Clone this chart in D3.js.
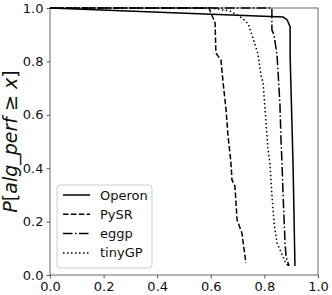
<!DOCTYPE html>
<html>
<head>
<meta charset="utf-8">
<script src="https://cdn.jsdelivr.net/npm/d3@7"></script>
<style>
  body { margin: 0; background: #fff; }
  svg { display: block; font-family: "DejaVu Sans", sans-serif; }
</style>
</head>
<body>
<svg id="chart"></svg>
<script>
// survival curves: [x, P]
const operon = [[0, 1.0], [0.433, 0.983], [0.87, 0.966], [0.885, 0.955], [0.896, 0.93],
  [0.896, 0.82], [0.907, 0.412], [0.914, 0.034]]
const pysr = [[0, 1.0], [0.593, 1.0], [0.616, 0.944], [0.619, 0.831], [0.638, 0.805],
  [0.646, 0.719], [0.657, 0.618], [0.664, 0.524], [0.675, 0.423], [0.679, 0.356],
  [0.69, 0.333], [0.698, 0.206], [0.716, 0.157], [0.731, 0.045]]
const eggp = [[0, 1.0], [0.828, 1.0], [0.828, 0.918], [0.836, 0.899], [0.847, 0.824],
  [0.851, 0.76], [0.858, 0.637], [0.862, 0.506], [0.866, 0.412], [0.869, 0.318],
  [0.877, 0.12], [0.881, 0.067], [0.892, 0.034]]
const tinygp = [[0, 1.0], [0.6, 1.0], [0.672, 0.989], [0.72, 0.96], [0.74, 0.94],
  [0.757, 0.888], [0.776, 0.828], [0.787, 0.75], [0.795, 0.72], [0.806, 0.573],
  [0.813, 0.476], [0.821, 0.412], [0.828, 0.3], [0.836, 0.195], [0.847, 0.12],
  [0.862, 0.086], [0.877, 0.05], [0.888, 0.034]]

const seriesNames = ["Operon", "PySR", "eggp", "tinyGP"]
const seriesData = [operon, pysr, eggp, tinygp]
const dashes = ["none", "5.5,2.4", "9.6,2.4,1.5,2.4", "1.5,2.5"]
const ticks = [0, 0.2, 0.4, 0.6, 0.8, 1.0]

const width = 332
const height = 295
const margin = { top: 8, right: 14, bottom: 20, left: 50 }

const svg = d3.select("#chart")
    .attr("width", width)
    .attr("height", height)

const x = d3.scaleLinear().domain([0, 1]).range([margin.left, width - margin.right])
const y = d3.scaleLinear().domain([0, 1]).range([height - margin.bottom, margin.top])

const xAxis = d3.axisBottom(x).tickValues(ticks).tickFormat(d3.format(".1f"))
    .tickSize(3.5).tickPadding(3)
const yAxis = d3.axisLeft(y).tickValues(ticks).tickFormat(d3.format(".1f"))
    .tickSize(3.5).tickPadding(3)

svg.append("g")
    .attr("transform", `translate(0,${height - margin.bottom})`)
    .call(xAxis)
svg.append("g")
    .attr("transform", `translate(${margin.left},0)`)
    .call(yAxis)

svg.selectAll(".tick text")
    .style("font-size", "13px")
    .style("font-family", "DejaVu Sans")
    .attr("fill", "#111")
svg.selectAll(".tick line").attr("stroke", "#333").attr("stroke-width", 0.8)
svg.selectAll(".domain").remove()

// frame
svg.append("rect")
    .attr("x", x(0)).attr("y", y(1))
    .attr("width", x(1) - x(0)).attr("height", y(0) - y(1))
    .attr("fill", "none")
    .attr("stroke", "#444")
    .attr("stroke-width", 0.8)

const line = d3.line().x(d => x(d[0])).y(d => y(d[1]))

svg.append("clipPath").attr("id", "plot-clip")
    .append("rect")
    .attr("x", x(0)).attr("y", y(1) - 1)
    .attr("width", x(1) - x(0)).attr("height", y(0) - y(1) + 2)

svg.append("g")
    .attr("clip-path", "url(#plot-clip)")
    .selectAll("path")
    .data(seriesData)
    .enter()
    .append("path")
    .attr("d", d => line(d))
    .attr("fill", "none")
    .attr("stroke", "#000")
    .attr("stroke-width", 1.5)
    .attr("stroke-dasharray", (d, i) => dashes[i])

// legend
const legend = svg.append("g")
legend.append("rect")
    .attr("x", 57).attr("y", 185)
    .attr("width", 95).attr("height", 83)
    .attr("rx", 3)
    .attr("fill", "#fff")
    .attr("fill-opacity", 0.8)
    .attr("stroke", "#ccc")
    .attr("stroke-width", 1)

seriesNames.forEach((name, i) => {
    const ly = 195 + i * 19.3
    legend.append("line")
        .attr("x1", 63).attr("x2", 90)
        .attr("y1", ly).attr("y2", ly)
        .attr("stroke", "#000")
        .attr("stroke-width", 1.5)
        .attr("stroke-dasharray", dashes[i])
    legend.append("text")
        .attr("x", 100).attr("y", ly)
        .attr("dy", "0.35em")
        .style("font-size", "13px")
        .attr("fill", "#111")
        .text(name)
})

// y label, mathtext style
const ylab = svg.append("text")
    .attr("transform", `translate(17,${(y(0) + y(1)) / 2}) rotate(-90)`)
    .attr("text-anchor", "middle")
    .style("font-size", "19px")
    .attr("fill", "#111")
const parts = [["P", true], ["[", false], ["alg", true], ["_", false], ["perf", true],
  [" ≥ ", false], ["x", true], ["]", false]]
parts.forEach(([t, it]) => {
    ylab.append("tspan")
        .style("font-style", it ? "italic" : "normal")
        .text(t)
})
</script>
</body>
</html>
